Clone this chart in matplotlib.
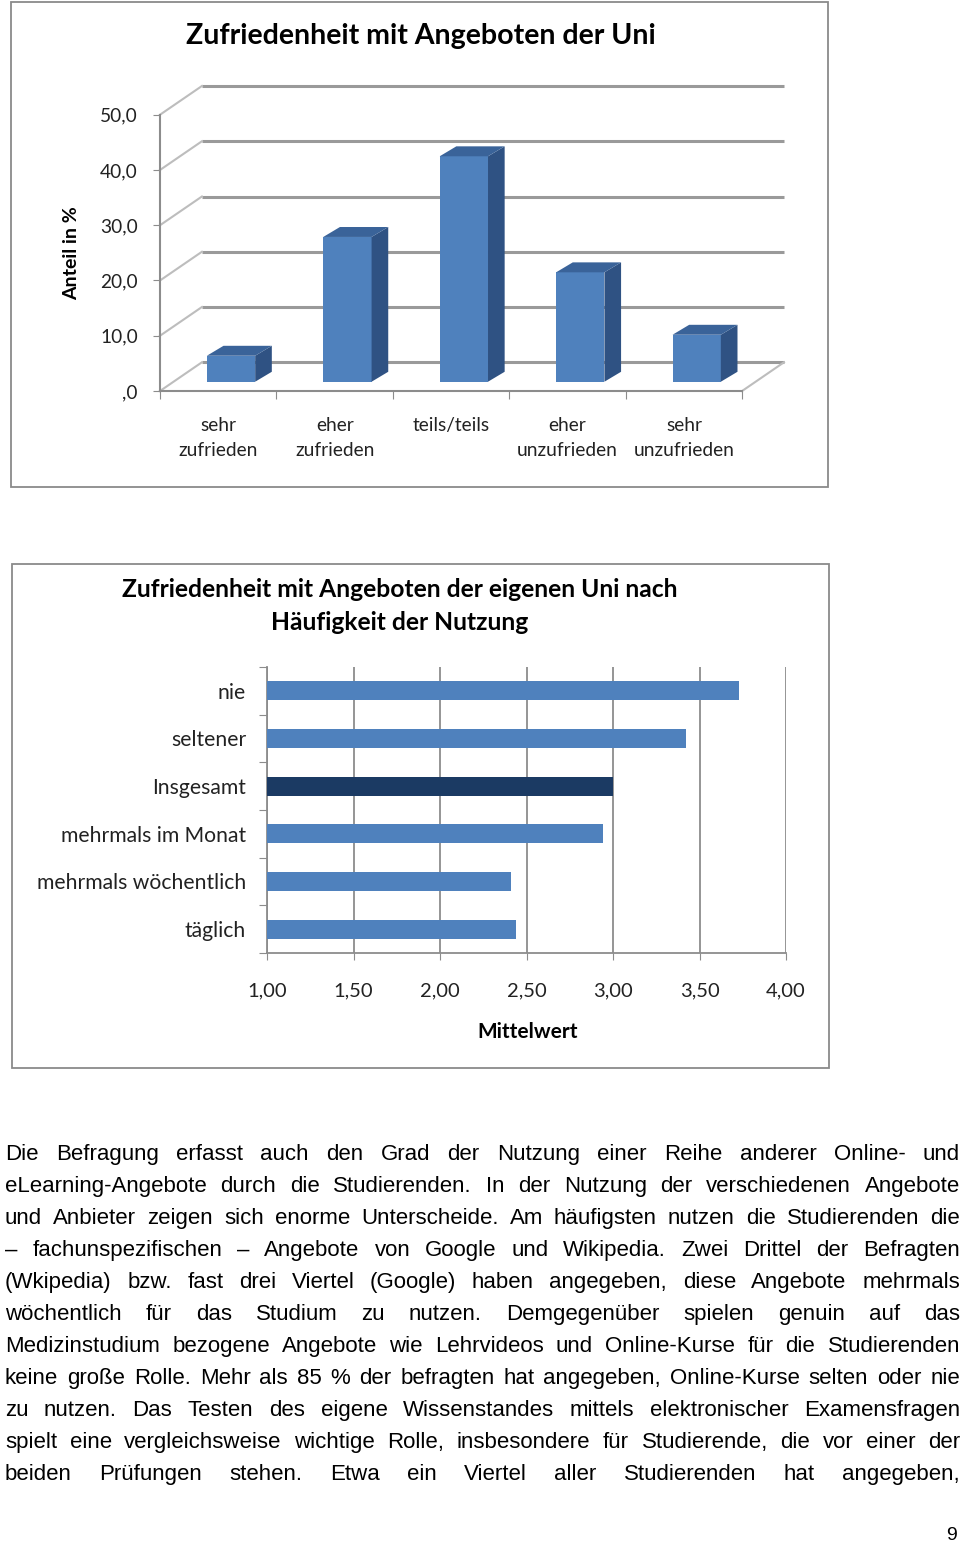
import numpy as np
import matplotlib
matplotlib.use("Agg")
import matplotlib.pyplot as plt
from matplotlib.patches import Rectangle, Polygon

# chart 1: satisfaction distribution (percent)
CATS1 = ["sehr\nzufrieden", "eher\nzufrieden", "teils/teils", "eher\nunzufrieden", "sehr\nunzufrieden"]
SHARE = [4.7, 26.2, 40.8, 19.8, 8.5]
YTICKS1 = [0, 10, 20, 30, 40, 50]
YLABELS1 = [",0", "10,0", "20,0", "30,0", "40,0", "50,0"]

# chart 2: mean satisfaction by usage frequency (top -> bottom)
CATS2 = ["nie", "seltener", "Insgesamt", "mehrmals im Monat", "mehrmals wöchentlich", "täglich"]
MEANS = [3.73, 3.42, 3.00, 2.94, 2.41, 2.44]
XTICKS2 = [1.0, 1.5, 2.0, 2.5, 3.0, 3.5, 4.0]

TEXT_LINES = [
    "Die Befragung erfasst auch den Grad der Nutzung einer Reihe anderer Online- und",
    "eLearning-Angebote durch die Studierenden. In der Nutzung der verschiedenen Angebote",
    "und Anbieter zeigen sich enorme Unterscheide. Am häufigsten nutzen die Studierenden die",
    "– fachunspezifischen – Angebote von Google und Wikipedia. Zwei Drittel der Befragten",
    "(Wkipedia) bzw. fast drei Viertel (Google) haben angegeben, diese Angebote mehrmals",
    "wöchentlich für das Studium zu nutzen. Demgegenüber spielen genuin auf das",
    "Medizinstudium bezogene Angebote wie Lehrvideos und Online-Kurse für die Studierenden",
    "keine große Rolle. Mehr als 85 % der befragten hat angegeben, Online-Kurse selten oder nie",
    "zu nutzen. Das Testen des eigene Wissenstandes mittels elektronischer Examensfragen",
    "spielt eine vergleichsweise wichtige Rolle, insbesondere für Studierende, die vor einer der",
    "beiden Prüfungen stehen. Etwa ein Viertel aller Studierenden hat angegeben,",
]

W, H = 960, 1543
BLUE, SIDE, TOP, NAVY = "#4f81bd", "#2f5283", "#3a6399", "#1b3a63"
GRID = "#8c8c8c"
INK = "#222222"
plt.rcParams["font.family"] = ["Lato", "DejaVu Sans"]

fig = plt.figure(figsize=(W / 100, H / 100), dpi=100)


def frac(x0, y0, x1, y1):
    # pixel box (top-left origin) -> figure rect
    return [x0 / W, 1 - y1 / H, (x1 - x0) / W, (y1 - y0) / H]


# page frames of the two charts
for x0, y0, x1, y1 in [(11, 2, 828, 487), (12, 564, 829, 1068)]:
    fig.add_artist(Rectangle((x0 / W, 1 - y1 / H), (x1 - x0) / W, (y1 - y0) / H,
                             transform=fig.transFigure, fill=False, ec="#8a8a8a", lw=1.3))

# ---- chart 1: pseudo-3D column chart ----
DX, DY = 0.36, 5.2          # depth of the back wall (data units)
ax1 = fig.add_axes(frac(160, 86, 784, 391))
ax1.set_xlim(-0.5, 4.5 + DX)
ax1.set_ylim(0, 50 + DY)
x = np.arange(len(CATS1))
for v in YTICKS1:
    ax1.plot([-0.5 + DX, 4.5 + DX], [v + DY, v + DY], color="#9a9a9a", lw=2.2,
             solid_capstyle="butt", clip_on=False, zorder=1)
    ax1.plot([-0.5, -0.5 + DX], [v, v + DY], color="#bdbdbd", lw=1.5, clip_on=False, zorder=1)
ax1.plot([4.5, 4.5 + DX], [0, DY], color="#bdbdbd", lw=1.5, clip_on=False, zorder=1)

fx, fw, fy = 0.11, 0.415, 1.68      # front face centre offset, width, lift
sx, sy = 0.143, 1.8                 # bar depth
for xi, v in zip(x, SHARE):
    l, r = xi + fx - fw / 2, xi + fx + fw / 2
    ax1.bar(l, v, fw, bottom=fy, align="edge", color=BLUE, zorder=3, clip_on=False)
    ax1.add_patch(Polygon([(r, fy), (r + sx, fy + sy), (r + sx, fy + v + sy), (r, fy + v)],
                          closed=True, fc=SIDE, ec="none", zorder=3, clip_on=False))
    ax1.add_patch(Polygon([(l, fy + v), (r, fy + v), (r + sx, fy + v + sy), (l + sx, fy + v + sy)],
                          closed=True, fc=TOP, ec="none", zorder=3, clip_on=False))

for s in ["top", "right"]:
    ax1.spines[s].set_visible(False)
ax1.spines["left"].set_bounds(0, 50)
ax1.spines["bottom"].set_bounds(-0.5, 4.5)
for s in ["left", "bottom"]:
    ax1.spines[s].set_color(GRID)
    ax1.spines[s].set_linewidth(1.5)
ax1.set_yticks(YTICKS1)
ax1.set_yticklabels(YLABELS1)
ax1.set_xticks(np.arange(-0.5, 5.0, 1.0))
ax1.set_xticklabels([])
ax1.set_xticks(x, minor=True)
ax1.set_xticklabels(CATS1, minor=True, linespacing=1.55)
ax1.tick_params(axis="y", length=5, color=GRID, pad=11, labelsize=13.8, labelcolor=INK)
ax1.tick_params(axis="x", which="major", length=6, color=GRID)
ax1.tick_params(axis="x", which="minor", length=0, pad=19, labelsize=13.8, labelcolor=INK)
ax1.patch.set_visible(False)

fig.text(421 / W, 1 - 36 / H, "Zufriedenheit mit Angeboten der Uni", ha="center", va="center",
         fontsize=20.5, fontweight="bold")
fig.text(72 / W, 1 - 253 / H, "Anteil in %", rotation=90, ha="center", va="center",
         fontsize=14, fontweight="bold")

# ---- chart 2: horizontal bars ----
ax2 = fig.add_axes(frac(267, 667, 786, 953))
ypos = np.arange(len(CATS2))[::-1]
colors = [NAVY if c == "Insgesamt" else BLUE for c in CATS2]
ax2.barh(ypos, [m - 1 for m in MEANS], 0.4, left=1, color=colors, zorder=3)
ax2.set_xlim(1, 4)
ax2.set_ylim(-0.5, len(CATS2) - 0.5)
ax2.set_xticks(XTICKS2)
ax2.set_xticklabels([f"{t:.2f}".replace(".", ",") for t in XTICKS2])
ax2.set_yticks(np.arange(-0.5, len(CATS2), 1.0))
ax2.set_yticklabels([])
ax2.set_yticks(ypos, minor=True)
ax2.set_yticklabels(CATS2, minor=True)
ax2.grid(axis="x", color=GRID, lw=1.3, zorder=1)
ax2.set_axisbelow(True)
for s in ["top", "right"]:
    ax2.spines[s].set_visible(False)
for s in ["left", "bottom"]:
    ax2.spines[s].set_color(GRID)
    ax2.spines[s].set_linewidth(1.3)
ax2.tick_params(axis="x", length=5, color=GRID, pad=16, labelsize=14.5, labelcolor=INK)
ax2.tick_params(axis="y", which="major", length=6, color=GRID)
ax2.tick_params(axis="y", which="minor", length=0, pad=15, labelsize=15.2, labelcolor=INK)

fig.text(400 / W, 1 - 590 / H, "Zufriedenheit mit Angeboten der eigenen Uni nach", ha="center",
         va="center", fontsize=17.7, fontweight="bold")
fig.text(400 / W, 1 - 622 / H, "Häufigkeit der Nutzung", ha="center", va="center",
         fontsize=17.7, fontweight="bold")
fig.text(528 / W, 1 - 1032 / H, "Mittelwert", ha="center", va="center",
         fontsize=15, fontweight="bold")

# ---- justified body text ----
BODY_FONT = ["Liberation Sans"]
renderer = fig.canvas.get_renderer()
for k, line in enumerate(TEXT_LINES):
    words = line.split(" ")
    base = 1160 + 32 * k
    ts = [fig.text(0, 1 - base / H, w, fontsize=16, family=BODY_FONT, va="baseline")
          for w in words]
    widths = [t.get_window_extent(renderer).width for t in ts]
    gap = (960 - 5 - sum(widths)) / (len(words) - 1)
    pos = 5
    for t, wd in zip(ts, widths):
        t.set_x(pos / W)
        pos += wd + gap

fig.text(957 / W, 1 - 1540 / H, "9", ha="right", va="baseline", fontsize=14,
         family=BODY_FONT)

fig.savefig("out.png", dpi=100)
